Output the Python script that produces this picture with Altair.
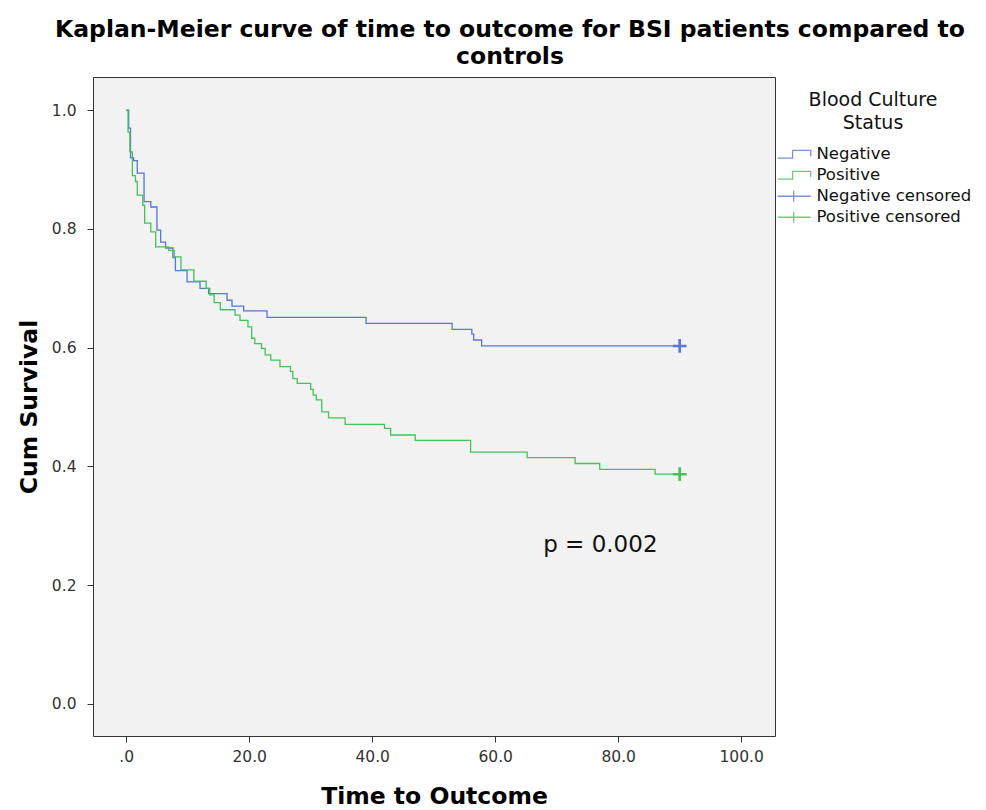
import altair as alt
import pandas as pd

# Kaplan-Meier step curves (time of drop, survival after drop)
neg_time = [0, 0.4, 0.7, 1.2, 1.8, 2.9, 4.0, 5.0, 5.6, 6.4, 7.6, 8.0, 9.9, 12.0, 13.4,
            16.4, 17.2, 19.1, 22.9, 39.0, 53.0, 56.2, 56.5, 57.8, 90.0]
neg_surv = [1.0, 0.97, 0.92, 0.915, 0.894, 0.846, 0.837, 0.798, 0.778, 0.768, 0.752, 0.730,
            0.711, 0.700, 0.691, 0.680, 0.670, 0.662, 0.651, 0.641, 0.631, 0.623, 0.613,
            0.603, 0.603]

pos_time = [0, 0.3, 0.6, 1.0, 1.5, 1.8, 2.7, 3.0, 4.0, 4.8, 6.9, 7.8, 8.9, 11.0, 13.0,
            13.6, 14.3, 15.3, 17.7, 18.5, 19.8, 20.4, 20.9, 22.0, 22.6, 23.5, 25.0, 26.7,
            27.1, 27.8, 30.0, 30.4, 30.9, 31.8, 32.9, 35.6, 42.0, 43.0, 47.0, 56.0, 65.2,
            73.0, 77.0, 86.0, 90.0]
pos_surv = [1.0, 0.963, 0.93, 0.89, 0.88, 0.857, 0.84, 0.81, 0.795, 0.77, 0.764, 0.753,
            0.731, 0.712, 0.700, 0.689, 0.676, 0.664, 0.655, 0.646, 0.635, 0.616, 0.607,
            0.599, 0.588, 0.579, 0.568, 0.560, 0.548, 0.540, 0.530, 0.520, 0.512, 0.492,
            0.482, 0.471, 0.464, 0.453, 0.444, 0.424, 0.415, 0.405, 0.395, 0.387, 0.387]

censor_time = [90.0, 90.0]
censor_surv = [0.603, 0.387]
censor_labels = ["Negative censored", "Positive censored"]

legend_labels = ["Negative", "Positive", "Negative censored", "Positive censored"]
legend_colors = ["#5677d2", "#42c358", "#5677d2", "#42c358"]

x_ticks = [0, 20, 40, 60, 80, 100]
y_ticks = [0.0, 0.2, 0.4, 0.6, 0.8, 1.0]

p_text = ["p = 0.002"]
p_time = [77.1]
p_surv = [0.268]

curves = pd.DataFrame({
    "time": neg_time + pos_time,
    "surv": neg_surv + pos_surv,
    "status": ["Negative"] * len(neg_time) + ["Positive"] * len(pos_time),
})
censor = pd.DataFrame({"time": censor_time, "surv": censor_surv, "status": censor_labels})
ptext = pd.DataFrame({"time": p_time, "surv": p_surv, "label": p_text})

FONT = "DejaVu Sans"
step_path = "M-1,0.7H1.7V-0.7H5V0.35"
cross_path = "M-1,0H5M1.9,-1.0V1.0"
plus_path = "M-1,0H1M0,-1V1"
legend_shapes = [step_path, step_path, cross_path, cross_path]

xscale = alt.Scale(domain=[-5.4, 105.5], nice=False, zero=False)
yscale = alt.Scale(domain=[-0.054, 1.056], nice=False, zero=False)

legend = alt.Legend(
    title=["Blood Culture", "Status"],
    orient="none", legendX=682, legendY=14,
    titleFont=FONT, titleFontSize=19, titleFontWeight="normal", titleColor="#111",
    titleAlign="center", titleAnchor="middle", titlePadding=13, titleLineHeight=23,
    labelFont=FONT, labelFontSize=16.5, labelColor="#111", labelOffset=25,
    symbolSize=121, rowPadding=4, symbolStrokeWidth=1.3, symbolFillColor="transparent",
    symbolOpacity=0.8,
)
cscale = alt.Scale(domain=legend_labels, range=legend_colors)
sscale = alt.Scale(domain=legend_labels, range=legend_shapes)

xenc = alt.X("time:Q", scale=xscale, axis=alt.Axis(
    values=x_ticks, labelExpr="datum.value == 0 ? '.0' : format(datum.value, '.1f')",
    title="Time to Outcome", grid=False, domain=False, tickSize=6, tickColor="#333",
    labelFont=FONT, labelFontSize=15.5, labelColor="#333", labelPadding=7,
    titleFont=FONT, titleFontSize=23.5, titleFontWeight="bold", titleColor="#000",
    titlePadding=20))
yenc = alt.Y("surv:Q", scale=yscale, axis=alt.Axis(
    values=y_ticks, format=".1f",
    title="Cum Survival", grid=False, domain=False, tickSize=6, tickColor="#333",
    labelFont=FONT, labelFontSize=15.5, labelColor="#333", labelPadding=11,
    titleFont=FONT, titleFontSize=23.5, titleFontWeight="bold", titleColor="#000",
    titlePadding=10))

lines = alt.Chart(curves).mark_line(interpolate="step-after", strokeWidth=1.3).encode(
    x=xenc, y=yenc, color=alt.Color("status:N", scale=cscale, legend=legend))

# legend-only layer (no rows drawn) carrying the legend symbols
legend_layer = alt.Chart(censor).transform_filter("datum.time > 1000").mark_point(
    filled=False, strokeWidth=1.3).encode(
    x="time:Q", y="surv:Q",
    color=alt.Color("status:N", scale=cscale, legend=legend),
    shape=alt.Shape("status:N", scale=sscale, legend=legend))

points = alt.Chart(censor).mark_point(shape=plus_path, size=190, filled=False,
                                      strokeWidth=2.6, opacity=1).encode(
    x="time:Q", y="surv:Q", color=alt.Color("status:N", scale=cscale, legend=legend))

ann = alt.Chart(ptext).mark_text(font=FONT, fontSize=23, color="#111").encode(
    x="time:Q", y="surv:Q", text="label:N")

chart = alt.layer(lines, legend_layer, points, ann).properties(
    width=682, height=659,
    autosize=alt.AutoSizeParams(type="none"),
    padding={"left": 85, "top": 69, "right": 203, "bottom": 85},
    title=alt.TitleParams(
        ["Kaplan-Meier curve of time to outcome for BSI patients compared to", "controls"],
        font=FONT, fontSize=23.5, fontWeight="bold", color="#000", anchor="middle",
        dx=76, offset=9, lineHeight=27),
).configure(background="white").configure_view(fill="#f2f2f2", stroke="#333", strokeWidth=1)

chart.save("out.html", embed_options={"renderer": "svg", "actions": False})
